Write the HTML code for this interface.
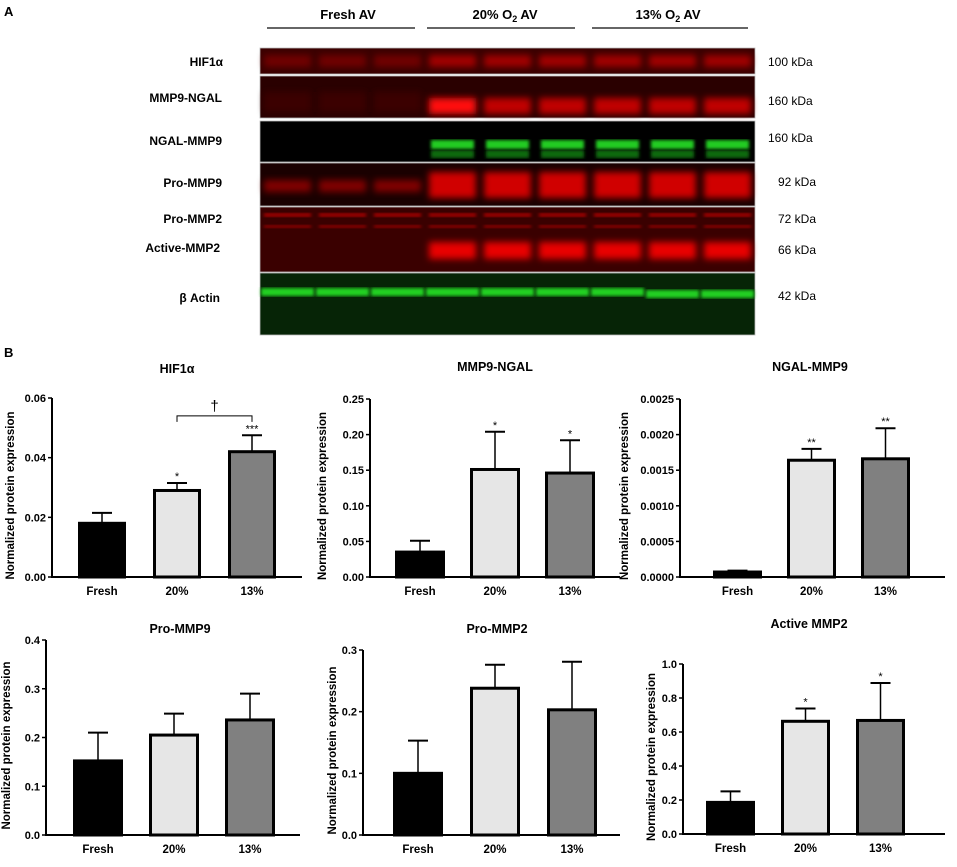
<!DOCTYPE html>
<html><head><meta charset="utf-8"><style>
body{margin:0;background:#fff;width:957px;height:862px;overflow:hidden;font-family:"Liberation Sans",Arial,sans-serif}
svg text{font-family:"Liberation Sans",Arial,sans-serif}
</style></head><body>
<svg id="fig" width="957" height="862" viewBox="0 0 957 862">
<defs>
<filter id="bl" x="-20%" y="-50%" width="140%" height="200%"><feGaussianBlur stdDeviation="3.5"/></filter>
<filter id="bl2"><feGaussianBlur stdDeviation="1.5"/></filter>
</defs>
<text x="4" y="16" font-size="13" font-weight="bold">A</text>
<g font-size="13" font-weight="bold" text-anchor="middle">
<text x="348" y="19">Fresh AV</text>
<text x="505" y="19">20% O<tspan font-size="9" dy="3">2</tspan><tspan dy="-3"> AV</tspan></text>
<text x="668" y="19">13% O<tspan font-size="9" dy="3">2</tspan><tspan dy="-3"> AV</tspan></text>
</g>
<g stroke="#333" stroke-width="1.5">
<line x1="267" y1="28" x2="415" y2="28"/><line x1="427" y1="28" x2="575" y2="28"/><line x1="592" y1="28" x2="748" y2="28"/>
</g>
<g id="blot"></g>
<g font-size="12" font-weight="bold" text-anchor="end">
<text x="223" y="66">HIF1α</text><text x="222" y="102">MMP9-NGAL</text><text x="222" y="145">NGAL-MMP9</text>
<text x="222" y="187">Pro-MMP9</text><text x="222" y="223">Pro-MMP2</text><text x="220" y="252">Active-MMP2</text>
<text x="220" y="302">β Actin</text>
</g>
<g font-size="12">
<text x="768" y="66">100 kDa</text><text x="768" y="105">160 kDa</text><text x="768" y="142">160 kDa</text>
<text x="778" y="186">92 kDa</text><text x="778" y="223">72 kDa</text><text x="778" y="254">66 kDa</text><text x="778" y="300">42 kDa</text>
</g>
<text x="4" y="357" font-size="13" font-weight="bold">B</text>
<g id="charts"></g>
</svg>
<script>
// ---- blot drawing ----
(function(){
  const NS='http://www.w3.org/2000/svg';
  const g=document.getElementById('blot');
  function el(t,a,p){const e=document.createElementNS(NS,t);for(const k in a)e.setAttribute(k,a[k]);(p||g).appendChild(e);return e;}
  const x0=260,x1=755,lw=(x1-x0)/9;
  const rows=[[48,74,'#3a0000'],[76,118,'#2a0000'],[121,162,'#000'],[163,206,'#1a0000'],[207,272,'#3a0000'],[273,335,'#062406']];
  rows.forEach(r=>el('rect',{x:x0,y:r[0],width:x1-x0,height:r[1]-r[0],fill:r[2],stroke:'#bbb','stroke-width':0.8}));
  for(let i=0;i<9;i++){
    const lx=x0+i*lw+4,w=lw-8,f=i>=3;
    el('rect',{x:lx,y:55,width:w,height:12,fill:f?'#a00000':'#700000',filter:'url(#bl)'});
    el('rect',{x:lx,y:f?98:92,width:w,height:f?16:20,fill:f?(i==3?'#ff1010':'#c00000'):'#3a0000',filter:'url(#bl)'});
    if(f){el('rect',{x:lx+2,y:140,width:w-4,height:9,fill:'#22cc22',filter:'url(#bl2)'});el('rect',{x:lx+2,y:150,width:w-4,height:8,fill:'#0e6a0e',filter:'url(#bl2)'});}
    el('rect',{x:lx,y:f?172:180,width:w,height:f?26:12,fill:f?'#d00000':'#800000',filter:'url(#bl)'});
    el('rect',{x:lx,y:213,width:w,height:4,fill:'#a00000',filter:'url(#bl2)'});
    el('rect',{x:lx,y:225,width:w,height:3,fill:'#900000',filter:'url(#bl2)'});
    if(f)el('rect',{x:lx,y:242,width:w,height:17,fill:'#e80000',filter:'url(#bl)'});
    el('rect',{x:lx-3,y:i>=7?290:288,width:w+6,height:8,fill:'#22d022',filter:'url(#bl2)'});
  }
})();
</script>
<script>
// ---- chart data ----
const categories=['Fresh','20%','13%'];
const hifValues=[0.018,0.029,0.042];
const hifErrors=[0.0035,0.0025,0.0055];
const hifTicks=['0.00','0.02','0.04','0.06'];
const mmp9ngalValues=[0.035,0.151,0.146];
const mmp9ngalErrors=[0.016,0.053,0.046];
const mmp9ngalTicks=['0.00','0.05','0.10','0.15','0.20','0.25'];
const ngalmmp9Values=[0.00007,0.00164,0.00166];
const ngalmmp9Errors=[0.00002,0.00016,0.00043];
const ngalmmp9Ticks=['0.0000','0.0005','0.0010','0.0015','0.0020','0.0025'];
const prommp9Values=[0.152,0.205,0.236];
const prommp9Errors=[0.058,0.044,0.054];
const prommp9Ticks=['0.0','0.1','0.2','0.3','0.4'];
const prommp2Values=[0.100,0.238,0.203];
const prommp2Errors=[0.053,0.038,0.078];
const prommp2Ticks=['0.0','0.1','0.2','0.3'];
const activeValues=[0.186,0.663,0.668];
const activeErrors=[0.065,0.075,0.22];
const activeTicks=['0.0','0.2','0.4','0.6','0.8','1.0'];
const hifStars=['','*','***'];
const mmp9ngalStars=['','*','*'];
const ngalmmp9Stars=['','**','**'];
const prommp9Stars=['','',''];
const prommp2Stars=['','',''];
const activeStars=['','*','*'];
const hifBracketLevel=0.054;

const NS='http://www.w3.org/2000/svg';
const root=document.getElementById('charts');
function mk(t,a,p){const e=document.createElementNS(NS,t);for(const k in a)e.setAttribute(k,a[k]);p.appendChild(e);return e;}
const fills=['#000','#e6e6e6','#808080'];
function chart(cfg){
  const g=mk('g',{},root);
  
  
  const max=parseFloat(cfg.ticks[cfg.ticks.length-1]);
  const y=v=>cfg.y0-(v/max)*(cfg.y0-cfg.yTop);
  const t=mk('text',{x:cfg.tx,y:cfg.ty,'font-size':12.5,'font-weight':'bold','text-anchor':'middle'},g);
  t.textContent=cfg.title;
  
  
  const yl=mk('text',{transform:`translate(${cfg.ylx},${(cfg.y0+cfg.yTop)/2+8}) rotate(-90)`,'font-size':11.5,'font-weight':'bold','text-anchor':'middle'},g);
  yl.textContent='Normalized protein expression';
  
  
  cfg.ticks.forEach(tk=>{
    const v=parseFloat(tk),yy=y(v);
    mk('line',{x1:cfg.ax-4,y1:yy,x2:cfg.ax,y2:yy,stroke:'#000','stroke-width':1.5},g);
    const tt=mk('text',{x:cfg.ax-6,y:yy+4,'font-size':11,'font-weight':'bold','text-anchor':'end'},g);
    tt.textContent=tk;
    
    
  });
  cfg.values.forEach((v,i)=>{
    const bx=cfg.b0+i*cfg.step, yy=y(v), ey=y(v+cfg.errors[i]), cx=bx+cfg.bw/2;
    mk('line',{x1:cx,y1:yy,x2:cx,y2:ey,stroke:'#000','stroke-width':1.5},g);
    mk('line',{x1:cx-10,y1:ey,x2:cx+10,y2:ey,stroke:'#000','stroke-width':2},g);
    const r=mk('rect',{x:bx+1.5,y:yy,width:cfg.bw-3,height:Math.max(cfg.y0-yy,0),fill:fills[i],stroke:'#000','stroke-width':3},g);
    
    
    if(cfg.stars[i]){const s=mk('text',{x:cx,y:ey-3,'font-size':11,'text-anchor':'middle'},g);s.textContent=cfg.stars[i];
      
      }
    const xl=mk('text',{x:cx,y:cfg.y0+18,'font-size':11.5,'font-weight':'bold','text-anchor':'middle'},g);
    xl.textContent=categories[i];
    
    
  });
  mk('line',{x1:cfg.ax,y1:cfg.yTop,x2:cfg.ax,y2:cfg.y0+1,stroke:'#000','stroke-width':2},g);
  mk('line',{x1:cfg.ax,y1:cfg.y0,x2:cfg.axEnd,y2:cfg.y0,stroke:'#000','stroke-width':2},g);
  return {g,y,cfg};
}
const c1=chart({name:'chart-hif1a',title:'HIF1α',tx:177,ty:373,ylx:14,ax:52,axEnd:302,y0:577,yTop:398,b0:78,step:75,bw:48,values:hifValues,errors:hifErrors,ticks:hifTicks,stars:hifStars});
chart({name:'chart-mmp9-ngal',title:'MMP9-NGAL',tx:495,ty:371,ylx:326,ax:370,axEnd:620,y0:577,yTop:399,b0:395,step:75,bw:50,values:mmp9ngalValues,errors:mmp9ngalErrors,ticks:mmp9ngalTicks,stars:mmp9ngalStars});
chart({name:'chart-ngal-mmp9',title:'NGAL-MMP9',tx:810,ty:371,ylx:628,ax:680,axEnd:945,y0:577,yTop:399,b0:713,step:74,bw:49,values:ngalmmp9Values,errors:ngalmmp9Errors,ticks:ngalmmp9Ticks,stars:ngalmmp9Stars});
chart({name:'chart-pro-mmp9',title:'Pro-MMP9',tx:180,ty:633,ylx:10,ax:46,axEnd:300,y0:835,yTop:640,b0:73,step:76,bw:50,values:prommp9Values,errors:prommp9Errors,ticks:prommp9Ticks,stars:prommp9Stars});
chart({name:'chart-pro-mmp2',title:'Pro-MMP2',tx:497,ty:633,ylx:336,ax:363,axEnd:620,y0:835,yTop:650,b0:393,step:77,bw:50,values:prommp2Values,errors:prommp2Errors,ticks:prommp2Ticks,stars:prommp2Stars});
chart({name:'chart-active-mmp2',title:'Active MMP2',tx:809,ty:628,ylx:655,ax:683,axEnd:945,y0:834,yTop:664,b0:706,step:75,bw:49,values:activeValues,errors:activeErrors,ticks:activeTicks,stars:activeStars});
// significance bracket HIF1a 20% vs 13%
(function(){
  const g=c1.g,cfg=c1.cfg;
  const xa=cfg.b0+cfg.step+cfg.bw/2, xb=cfg.b0+2*cfg.step+cfg.bw/2, yb=c1.y(hifBracketLevel);
  const p=mk('path',{d:`M${xa},${yb+6}V${yb}H${xb}V${yb+6}`,fill:'none',stroke:'#000','stroke-width':1},g);
  
  
  const d=mk('text',{x:(xa+xb)/2,y:yb-5,'font-size':15,'text-anchor':'middle'},g);d.textContent='†';
  
  
})();
</script>
</body></html>
